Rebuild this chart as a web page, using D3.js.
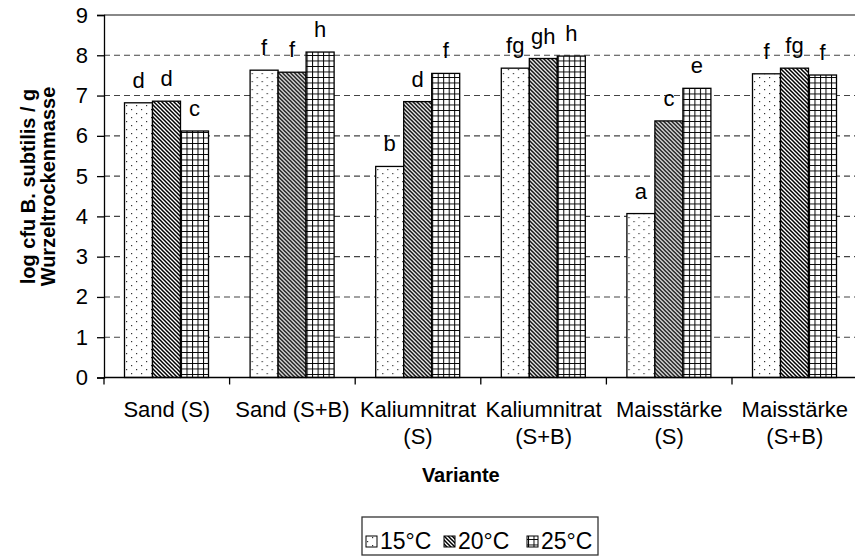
<!DOCTYPE html>
<html>
<head>
<meta charset="utf-8">
<script src="https://cdn.jsdelivr.net/npm/d3@7"></script>
<style>
html,body{margin:0;padding:0;background:#fff;}
svg{display:block;font-family:"Liberation Sans",Arial,sans-serif;}
</style>
</head>
<body>
<svg id="chart" width="855" height="559"></svg>
<script>
// ---- data ----
const categories = [
  ["Sand (S)"],
  ["Sand (S+B)"],
  ["Kaliumnitrat", "(S)"],
  ["Kaliumnitrat", "(S+B)"],
  ["Maisstärke", "(S)"],
  ["Maisstärke", "(S+B)"]
];
const seriesNames = ["15°C", "20°C", "25°C"];
const values15 = [6.82, 7.63, 5.24, 7.68, 4.07, 7.54];
const values20 = [6.86, 7.58, 6.85, 7.92, 6.37, 7.68];
const values25 = [6.12, 8.08, 7.55, 7.98, 7.18, 7.51];
const letters15 = ["d", "f", "b", "fg", "a", "f"];
const letters20 = ["d", "f", "d", "gh", "c", "fg"];
const letters25 = ["c", "h", "f", "h", "e", "f"];
const yTicks = [0, 1, 2, 3, 4, 5, 6, 7, 8, 9];
const yTitle = ["log cfu B. subtilis / g", "Wurzeltrockenmasse"];
const xTitle = "Variante";

const seriesValues = [values15, values20, values25];
const seriesLetters = [letters15, letters20, letters25];

const svg = d3.select("#chart");
const defs = svg.append("defs");

// patterns
const pDots = defs.append("pattern").attr("id", "pat0")
  .attr("patternUnits", "userSpaceOnUse").attr("width", 10).attr("height", 8);
pDots.append("rect").attr("width", 10).attr("height", 8).attr("fill", "#fff");
pDots.append("rect").attr("x", 2).attr("y", 1).attr("width", 1.2).attr("height", 1.2).attr("fill", "#333");
pDots.append("rect").attr("x", 7).attr("y", 5).attr("width", 1.2).attr("height", 1.2).attr("fill", "#333");

const pDiag = defs.append("pattern").attr("id", "pat1")
  .attr("patternUnits", "userSpaceOnUse").attr("width", 4).attr("height", 4);
pDiag.append("rect").attr("width", 4).attr("height", 4).attr("fill", "#fff");
pDiag.append("path").attr("d", "M-1,-1 L5,5 M-1,3 L1,5 M3,-1 L5,1")
  .attr("stroke", "#000").attr("stroke-width", 1.5);

const pGrid = defs.append("pattern").attr("id", "pat2")
  .attr("patternUnits", "userSpaceOnUse").attr("width", 5.5).attr("height", 5.5);
pGrid.append("rect").attr("width", 5.5).attr("height", 5.5).attr("fill", "#fff");
pGrid.append("path").attr("d", "M0.5,0 V5.5 M0,0.5 H5.5")
  .attr("stroke", "#000").attr("stroke-width", 1);

// scales
const plotLeft = 104, plotRight = 857.6, plotTop = 15, plotBottom = 377.5;
const x0 = d3.scaleBand().domain(d3.range(categories.length)).range([plotLeft, plotRight]).padding(0);
const x1 = d3.scaleBand().domain(d3.range(seriesNames.length)).range([20.5, 104.5]).padding(0);
const y = d3.scaleLinear().domain([0, 9]).range([plotBottom, plotTop]);

// gridlines
svg.append("g").selectAll("line").data(yTicks.filter(t => t > 0 && t < 9)).join("line")
  .attr("x1", plotLeft).attr("x2", 855)
  .attr("y1", d => y(d)).attr("y2", d => y(d))
  .attr("stroke", "#444").attr("stroke-width", 1.1).attr("stroke-dasharray", "6,4");
svg.append("line").attr("x1", plotLeft).attr("x2", 855)
  .attr("y1", y(9)).attr("y2", y(9)).attr("stroke", "#888").attr("stroke-width", 2);

// bars
const groups = svg.append("g").selectAll("g").data(categories).join("g")
  .attr("transform", (d, i) => `translate(${x0(i)},0)`);
groups.each(function(c, ci) {
  const g = d3.select(this);
  seriesNames.forEach((s, si) => {
    const v = seriesValues[si][ci];
    g.append("rect")
      .attr("x", x1(si)).attr("width", x1.bandwidth())
      .attr("y", y(v)).attr("height", y(0) - y(v))
      .attr("fill", `url(#pat${si})`).attr("stroke", "#000").attr("stroke-width", 1.3);
    g.append("text")
      .attr("x", x1(si) + x1.bandwidth() / 2).attr("y", y(v) - 15)
      .attr("text-anchor", "middle").attr("font-size", 22).attr("fill", "#000")
      .text(seriesLetters[si][ci]);
  });
});

// y axis
const yAxis = d3.axisLeft(y).tickValues(yTicks).tickSize(7).tickPadding(9).tickFormat(d3.format("d"));
const gy = svg.append("g").attr("transform", `translate(${plotLeft},0)`).call(yAxis);
gy.select(".domain").attr("stroke", "#000").attr("stroke-width", 1.3);
gy.selectAll(".tick line").attr("stroke", "#000").attr("stroke-width", 1.3);
gy.selectAll(".tick text").attr("font-size", 22).attr("font-family", "Liberation Sans, Arial, sans-serif").attr("fill", "#000");

// x axis
svg.append("line").attr("x1", plotLeft).attr("x2", 855).attr("y1", plotBottom).attr("y2", plotBottom)
  .attr("stroke", "#000").attr("stroke-width", 1.3);
svg.append("g").selectAll("line").data(d3.range(categories.length + 1)).join("line")
  .attr("x1", d => plotLeft + d * x0.bandwidth()).attr("x2", d => plotLeft + d * x0.bandwidth())
  .attr("y1", plotBottom).attr("y2", plotBottom + 7)
  .attr("stroke", "#000").attr("stroke-width", 1.3);
const catText = svg.append("g").selectAll("text").data(categories).join("text")
  .attr("x", (d, i) => x0(i) + x0.bandwidth() / 2).attr("y", 417)
  .attr("text-anchor", "middle").attr("font-size", 22).attr("fill", "#000");
catText.each(function(lines) {
  d3.select(this).selectAll("tspan").data(lines).join("tspan")
    .attr("x", d3.select(this).attr("x")).attr("dy", (d, i) => i === 0 ? 0 : 27).text(d => d);
});

// titles
svg.append("text").attr("x", (plotLeft + plotRight) / 2 - 20).attr("y", 482)
  .attr("text-anchor", "middle").attr("font-size", 20).attr("font-weight", "bold").text(xTitle);
const yt = svg.append("text").attr("transform", "translate(0,186.5) rotate(-90)")
  .attr("text-anchor", "middle").attr("font-size", 20).attr("font-weight", "bold");
yt.selectAll("tspan").data(yTitle).join("tspan")
  .attr("x", 0).attr("y", (d, i) => 35 + i * 20).text(d => d);

// legend
const legX = 362, legY = 517;
const legItemX = [366, 444, 527];
const legTextX = [380, 458, 541];
svg.append("rect").attr("x", legX).attr("y", legY).attr("width", 236).attr("height", 38)
  .attr("fill", "#fff").attr("stroke", "#333").attr("stroke-width", 1.3);
seriesNames.forEach((s, si) => {
  svg.append("rect").attr("x", legItemX[si]).attr("y", 536).attr("width", 11).attr("height", 11)
    .attr("fill", `url(#pat${si})`).attr("stroke", "#000").attr("stroke-width", 1);
  svg.append("text").attr("x", legTextX[si]).attr("y", 549).attr("font-size", 23).attr("fill", "#000").text(s);
});
</script>
</body>
</html>
